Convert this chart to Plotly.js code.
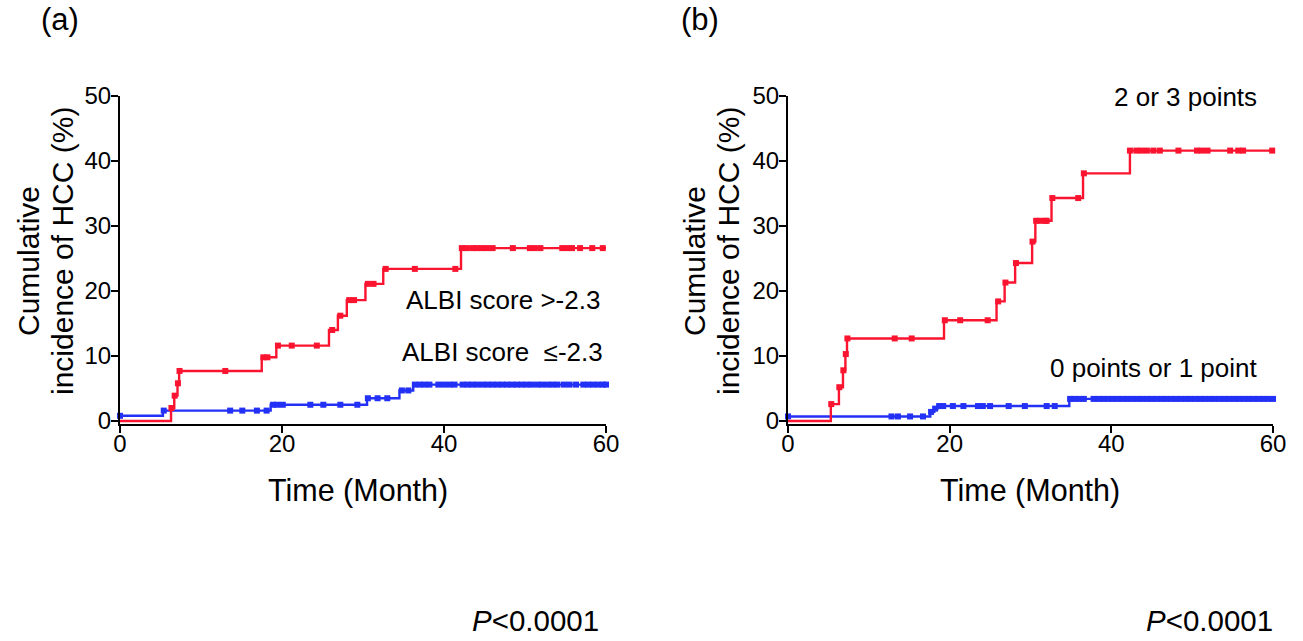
<!DOCTYPE html>
<html><head><meta charset="utf-8">
<script src="https://cdn.plot.ly/plotly-3.0.1.min.js"></script>
<style>html,body{margin:0;padding:0;background:#fff;}#chart{width:1303px;height:641px;}</style>
</head><body><div id="chart"></div>
<script>
// Panel (a): ALBI score
const redA_t = [0, 6.3, 6.7, 7.1, 7.3, 17.5, 19.3, 25.8, 26.9, 28.0, 30.3, 32.5, 42.1, 60];
const redA_y = [0, 2.0, 3.9, 5.8, 7.7, 9.8, 11.6, 14.0, 16.2, 18.6, 21.1, 23.4, 26.6, 26.6];
const redA_cens = [6.35, 6.75, 7.15, 7.35, 13.0, 17.7, 18.2, 19.5, 21.2, 24.3, 26.2, 27.2, 28.3, 28.9, 30.6, 31.3, 32.8, 36.4, 41.4,
  42.2, 42.8, 43.5, 44.1, 44.7, 45.3, 46.0, 48.5, 50.6, 51.2, 51.9, 54.6, 55.2, 55.8, 56.8, 58.3, 59.6];
const blueA_t = [0, 5.3, 18.6, 30.5, 34.5, 36.2, 60];
const blueA_y = [0.8, 1.6, 2.5, 3.5, 4.7, 5.6, 5.6];
const blueA_cens = [0, 5.4, 13.6, 15.1, 16.9, 18.1, 18.9, 19.4, 20.1, 23.5, 25.1, 27.2, 29.3, 30.6, 31.8, 33.0, 34.8, 35.6,
  36.4, 37.0, 37.6, 38.2, 39.3, 40.0, 40.7, 41.3, 42.3, 42.9, 43.5, 44.1, 44.8, 45.4, 46.0, 46.6, 47.2, 47.8, 48.4, 49.0,
  49.6, 50.2, 50.8, 51.5, 52.1, 52.8, 53.4, 54.0, 54.8, 55.5, 56.3, 57.2, 57.8, 58.4, 59.0, 59.6, 60.0];

// Panel (b): points
const redB_t = [0, 5.3, 6.3, 6.8, 7.1, 7.3, 19.3, 25.8, 26.8, 28.1, 30.2, 30.6, 32.6, 36.5, 42.3, 60];
const redB_y = [0, 2.6, 5.2, 7.8, 10.3, 12.7, 15.5, 18.4, 21.3, 24.3, 27.6, 30.8, 34.3, 38.1, 41.6, 41.6];
const redB_cens = [5.35, 6.35, 6.85, 7.15, 7.35, 13.2, 15.3, 19.4, 21.3, 24.7, 26.0, 26.9, 28.2, 30.25, 30.7, 31.2, 31.8, 32.0,
  32.7, 35.9, 36.6, 42.3, 43.1, 43.7, 44.4, 45.2, 46.0, 48.3, 50.6, 51.2, 51.9, 54.7, 55.7, 56.3, 59.9];
const blueB_t = [0, 17.6, 18.1, 18.5, 34.8, 60];
const blueB_y = [0.7, 1.4, 1.9, 2.3, 3.4, 3.4];
const blueB_cens = [0, 12.8, 13.6, 15.1, 16.7, 17.7, 18.2, 18.7, 19.2, 20.4, 21.7, 23.5, 24.1, 25.0, 27.3, 29.3, 32.0, 33.0,
  34.9, 35.4, 36.0, 36.6, 37.8, 38.4, 39.0, 39.6, 40.2, 40.8, 41.4, 42.0, 42.6, 43.2, 43.8, 44.4, 45.0, 45.6, 46.2, 46.8,
  47.4, 48.0, 48.6, 49.2, 49.8, 50.4, 51.0, 51.6, 52.2, 52.8, 53.4, 54.0, 54.6, 55.2, 55.8, 56.4, 57.0, 57.6, 58.2, 58.8, 59.4, 60.0];

const xTicks = [0, 20, 40, 60];
const yTicks = [0, 10, 20, 30, 40, 50];
const labelsA = ["ALBI score >-2.3", "ALBI score  \u2264-2.3"];
const labelsB = ["2 or 3 points", "0 points or 1 point"];
const yTitle = ["Cumulative", "incidence of HCC (%)"];
const xTitle = "Time (Month)";
const pText = "<i>P</i>&lt;0.0001";

const RED = "#fb1430", BLUE = "#2330f5";
const FONT = "Liberation Sans, Arial, Helvetica, sans-serif";

function stepAt(ts, ys, t) {
  let v = ys[0];
  for (let i = 0; i < ts.length; i++) { if (ts[i] <= t) v = ys[i]; }
  return v;
}
function curve(ts, ys, color, xa, ya) {
  return {x: ts, y: ys, xaxis: xa, yaxis: ya, mode: "lines", line: {shape: "hv", color: color, width: 2.4},
    hoverinfo: "skip", showlegend: false};
}
function cens(ts, ys, cs, color, xa, ya) {
  return {x: cs, y: cs.map(t => stepAt(ts, ys, t)), xaxis: xa, yaxis: ya, mode: "markers",
    marker: {symbol: "square", size: 6, color: color}, cliponaxis: false, hoverinfo: "skip", showlegend: false};
}

const traces = [
  curve(blueA_t, blueA_y, BLUE, "x", "y"), cens(blueA_t, blueA_y, blueA_cens, BLUE, "x", "y"),
  curve(redA_t, redA_y, RED, "x", "y"), cens(redA_t, redA_y, redA_cens, RED, "x", "y"),
  curve(blueB_t, blueB_y, BLUE, "x2", "y2"), cens(blueB_t, blueB_y, blueB_cens, BLUE, "x2", "y2"),
  curve(redB_t, redB_y, RED, "x2", "y2"), cens(redB_t, redB_y, redB_cens, RED, "x2", "y2")
];

const W = 1303, H = 641;
const px = v => v / W, py = v => 1 - v / H;

function xax(dom, anchor) {
  return {domain: dom, anchor: anchor, range: [0, 60], tickvals: xTicks, ticktext: xTicks.map(String),
    showgrid: false, zeroline: false, showline: true, linecolor: "#000", linewidth: 2,
    ticks: "outside", ticklen: 7, tickwidth: 2, tickcolor: "#000", ticklabelstandoff: -9,
    tickfont: {family: FONT, size: 24, color: "#000"}, automargin: false, fixedrange: true};
}
function yax(dom, anchor) {
  return {domain: dom, anchor: anchor, range: [-0.4, 50], tickvals: yTicks, ticktext: yTicks.map(String),
    showgrid: false, zeroline: false, showline: true, linecolor: "#000", linewidth: 2,
    ticks: "outside", ticklen: 7, tickwidth: 2, tickcolor: "#000", ticklabelstandoff: -5,
    tickfont: {family: FONT, size: 24, color: "#000"}, automargin: false, fixedrange: true};
}

const ydom = [py(423.6), py(96)];
function ann(text, x, y, size, xanchor, extra) {
  return Object.assign({text: text, x: px(x), y: py(y), xref: "paper", yref: "paper", showarrow: false,
    xanchor: xanchor || "center", yanchor: "middle", font: {family: FONT, size: size, color: "#000"}}, extra || {});
}

const layout = {
  width: W, height: H, margin: {l: 0, r: 0, t: 0, b: 0}, paper_bgcolor: "#fff", plot_bgcolor: "#fff",
  showlegend: false,
  xaxis: xax([px(120), px(606)], "y"), yaxis: yax(ydom, "x"),
  xaxis2: xax([px(788), px(1273)], "y2"), yaxis2: yax(ydom, "x2"),
  annotations: [
    ann("(a)", 60, 20, 31), ann("(b)", 700, 20, 31),
    ann(yTitle[0], 28, 261, 30, "center", {textangle: -90}),
    ann(yTitle[1], 63, 251, 30, "center", {textangle: -90}),
    ann(yTitle[0], 694, 261, 30, "center", {textangle: -90}),
    ann(yTitle[1], 729, 251, 30, "center", {textangle: -90}),
    ann(xTitle, 358, 490, 30.5), ann(xTitle, 1030, 490, 30.5),
    ann(labelsA[0], 602, 300, 26, "right"), ann(labelsA[1], 605, 352, 26, "right"),
    ann(labelsB[0], 1259, 97, 26, "right"), ann(labelsB[1], 1259, 368, 26, "right"),
    ann(pText, 601, 639, 29.5, "right", {yanchor: "bottom"}), ann(pText, 1275, 639, 29.5, "right", {yanchor: "bottom"})
  ]
};

Plotly.newPlot("chart", traces, layout, {displayModeBar: false, staticPlot: true});
</script></body></html>
